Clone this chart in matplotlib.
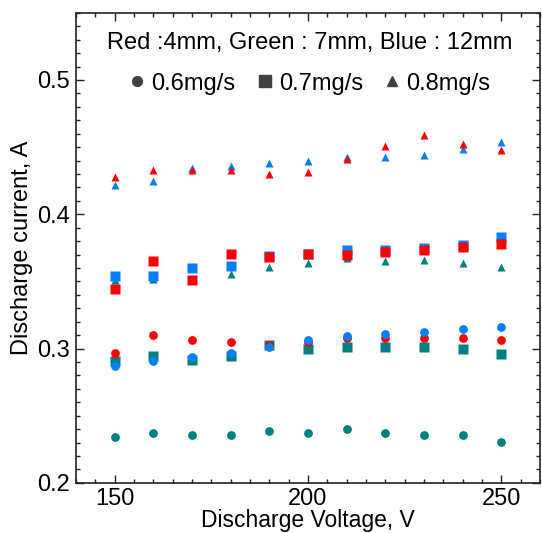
import matplotlib
matplotlib.use("Agg")
import matplotlib.pyplot as plt
from matplotlib.lines import Line2D
from matplotlib.ticker import MultipleLocator

plt.rcParams['font.family'] = ['Liberation Sans', 'DejaVu Sans']

# discharge voltage, V
voltage = [150, 160, 170, 180, 190, 200, 210, 220, 230, 240, 250]

# discharge current, A  (Red: 4mm, Green: 7mm, Blue: 12mm)
red_06 = [0.2968, 0.3100, 0.3064, 0.3047, 0.3025, 0.3050, 0.3077, 0.3077, 0.3077, 0.3077, 0.3062]
red_07 = [0.3442, 0.3650, 0.3509, 0.3701, 0.3680, 0.3701, 0.3700, 0.3719, 0.3732, 0.3760, 0.3780]
red_08 = [0.4281, 0.4331, 0.4331, 0.4331, 0.4300, 0.4314, 0.4413, 0.4509, 0.4590, 0.4526, 0.4476]

green_06 = [0.2343, 0.2373, 0.2358, 0.2358, 0.2390, 0.2373, 0.2402, 0.2373, 0.2358, 0.2358, 0.2306]
green_07 = [0.2904, 0.2946, 0.2916, 0.2946, 0.3025, 0.2995, 0.3012, 0.3012, 0.3012, 0.2995, 0.2960]
green_08 = [0.3510, 0.3516, 0.3510, 0.3553, 0.3610, 0.3640, 0.3672, 0.3650, 0.3657, 0.3640, 0.3607]

blue_06 = [0.2869, 0.2904, 0.2936, 0.2968, 0.3015, 0.3064, 0.3094, 0.3111, 0.3126, 0.3143, 0.3160]
blue_07 = [0.3539, 0.3539, 0.3602, 0.3613, 0.3690, 0.3701, 0.3732, 0.3732, 0.3746, 0.3773, 0.3830]
blue_08 = [0.4215, 0.4250, 0.4348, 0.4363, 0.4380, 0.4398, 0.4427, 0.4427, 0.4442, 0.4487, 0.4541]

RED = '#ff0000'
GREEN = '#008080'
BLUE = '#0080ff'

fig = plt.figure(figsize=(5.42, 5.33), dpi=100)
ax = fig.add_axes([0.140, 0.094, 0.856, 0.882])

ms_c, ms_s, ms_t = 6.3, 7.7, 6.3

# green first, then red / blue on top
ax.plot(voltage, green_06, 'o', color=GREEN, ms=ms_c, mec='none')
ax.plot(voltage, green_07, 's', color=GREEN, ms=ms_s, mec='none')
ax.plot(voltage, green_08, '^', color=GREEN, ms=ms_t, mec='none')

ax.plot(voltage, red_06, 'o', color=RED, ms=ms_c, mec='none')
ax.plot(voltage, blue_06, 'o', color=BLUE, ms=ms_c, mec='none')

ax.plot(voltage, blue_07, 's', color=BLUE, ms=ms_s, mec='none')
ax.plot(voltage, red_07, 's', color=RED, ms=ms_s, mec='none')

ax.plot(voltage, blue_08, '^', color=BLUE, ms=ms_t, mec='none')
ax.plot(voltage, red_08, '^', color=RED, ms=ms_t, mec='none')

ax.set_xlim(140, 260)
ax.set_ylim(0.2, 0.55)
ax.xaxis.set_major_locator(MultipleLocator(50))
ax.xaxis.set_minor_locator(MultipleLocator(5))
ax.yaxis.set_minor_locator(MultipleLocator(0.01))
ax.set_yticks([0.2, 0.3, 0.4, 0.5])
ax.set_yticklabels(['0.2', '0.3', '0.4', '0.5'])

ax.tick_params(which='both', direction='in', top=True, right=True,
               labelsize=17, width=1.0, color='#222222')
ax.tick_params(which='major', length=6, pad=4)
ax.tick_params(which='minor', length=3)
for sp in ax.spines.values():
    sp.set_linewidth(1.2)
    sp.set_color('#222222')

ax.set_xlabel('Discharge Voltage, V', fontsize=16.5, labelpad=-1)
ax.set_ylabel('Discharge current, A', fontsize=17, labelpad=3)

# marker key: shape = mass flow rate, colour = size
grey = '#404040'
handles = [Line2D([], [], ls='none', marker='o', color=grey, ms=7.0),
           Line2D([], [], ls='none', marker='s', color=grey, ms=8.0),
           Line2D([], [], ls='none', marker='^', color=grey, ms=7.0)]
leg = ax.legend(handles, ['0.6mg/s', '0.7mg/s', '0.8mg/s'],
                title='Red :4mm, Green : 7mm, Blue : 12mm',
                ncol=3, loc='upper center', bbox_to_anchor=(0.505, 1.0),
                frameon=False, fontsize=17, title_fontsize=17,
                handlelength=0.6, handletextpad=0.3, columnspacing=0.95,
                labelspacing=0.8, borderpad=0.3)

fig.savefig('out.png', dpi=100)
